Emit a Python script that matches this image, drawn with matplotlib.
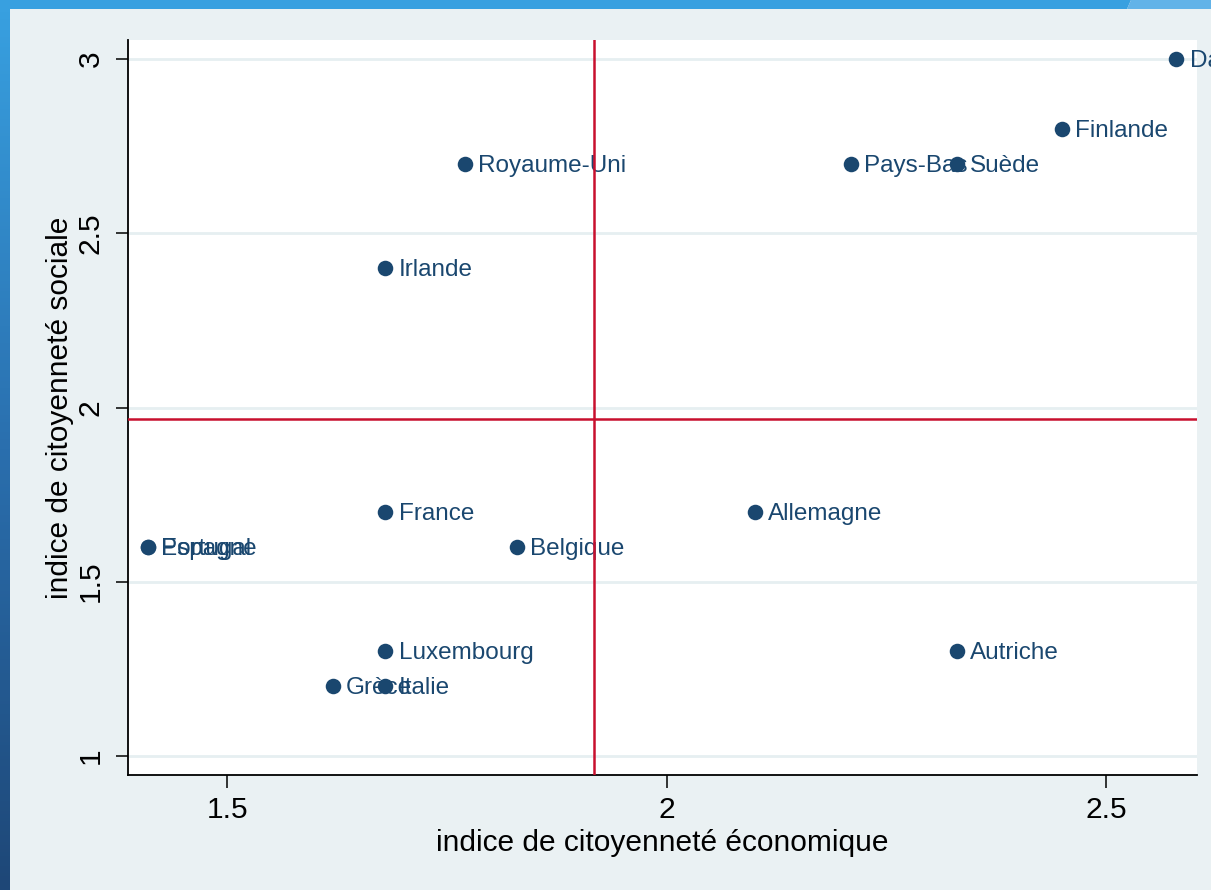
import matplotlib
matplotlib.use("Agg")
import matplotlib.pyplot as plt
import numpy as np
from matplotlib.colors import LinearSegmentedColormap

countries = ["Danemark", "Finlande", "Suède", "Pays-Bas", "Royaume-Uni", "Irlande",
             "France", "Allemagne", "Belgique", "Espagne", "Portugal",
             "Luxembourg", "Grèce", "Italie", "Autriche"]
eco = [2.58, 2.45, 2.33, 2.21, 1.77, 1.68, 1.68, 2.10, 1.83, 1.41, 1.41, 1.68, 1.62, 1.68, 2.33]
soc = [3.0, 2.8, 2.7, 2.7, 2.7, 2.4, 1.7, 1.7, 1.6, 1.6, 1.6, 1.3, 1.2, 1.2, 1.3]
mean_eco = 1.917
mean_soc = 1.967
xticks = [1.5, 2, 2.5]
xticklabels = ["1.5", "2", "2.5"]
yticks = [1, 1.5, 2, 2.5, 3]
yticklabels = ["1", "1.5", "2", "2.5", "3"]

plt.rcParams['font.family'] = ['Liberation Sans', 'DejaVu Sans']

W, H = 1211, 890
fig = plt.figure(figsize=(W / 100, H / 100), dpi=100)
fig.patch.set_facecolor('#eaf1f3')

# decorative frame bands
top = fig.add_axes([0, 1 - 9 / H, 1, 9 / H])
top.axis('off')
top.set_xlim(0, W); top.set_ylim(0, 9)
top.fill([0, 1127, 1131, 0], [0, 0, 9, 9], color='#38a0e0', lw=0)
top.fill([1127, W, W, 1131], [0, 0, 9, 9], color='#62b3e8', lw=0)
left = fig.add_axes([0, 0, 10 / W, 1 - 9 / H])
left.axis('off')
grad = np.linspace(0, 1, 256).reshape(-1, 1)
cmap = LinearSegmentedColormap.from_list('b', ['#38a0e0', '#2a6fae', '#1e4777'])
left.imshow(grad, aspect='auto', cmap=cmap, extent=[0, 1, 0, 1])

ax = fig.add_axes([128 / W, 1 - 775 / H, (1197 - 128) / W, (775 - 40) / H])
ax.set_facecolor('white')
ax.set_xlim(1.387, 2.6035)
ax.set_ylim(0.945, 3.055)

for yt in yticks:
    ax.axhline(yt, color='#e6eff1', lw=2, zorder=1)

navy = '#1a476f'
ax.scatter(eco, soc, s=125, color=navy, zorder=3, linewidths=0)
for name, x, y in zip(countries, eco, soc):
    ax.annotate(name, (x, y), xytext=(9.5, -1.5), textcoords='offset points',
                va='center', ha='left', fontsize=17.5, color=navy,
                annotation_clip=False, zorder=4)

ax.axvline(mean_eco, color='#c8102e', lw=1.8, zorder=5)
ax.axhline(mean_soc, color='#c8102e', lw=1.8, zorder=5)

for s in ['top', 'right']:
    ax.spines[s].set_visible(False)
for s in ['left', 'bottom']:
    ax.spines[s].set_linewidth(1.3)
    ax.spines[s].set_color('black')

ax.set_xticks(xticks)
ax.set_xticklabels(xticklabels)
ax.set_yticks(yticks)
ax.set_yticklabels(yticklabels, rotation=90, va='center')
ax.tick_params(axis='both', length=9, width=1.1, labelsize=21.5, colors='black')
ax.tick_params(axis='x', pad=6)
ax.tick_params(axis='y', pad=8)

ax.set_xlabel('indice de citoyenneté économique', fontsize=21.5, labelpad=4)
ax.set_ylabel('indice de citoyenneté sociale', fontsize=21.5, labelpad=2)

fig.savefig('out.png', dpi=100, facecolor=fig.get_facecolor())
